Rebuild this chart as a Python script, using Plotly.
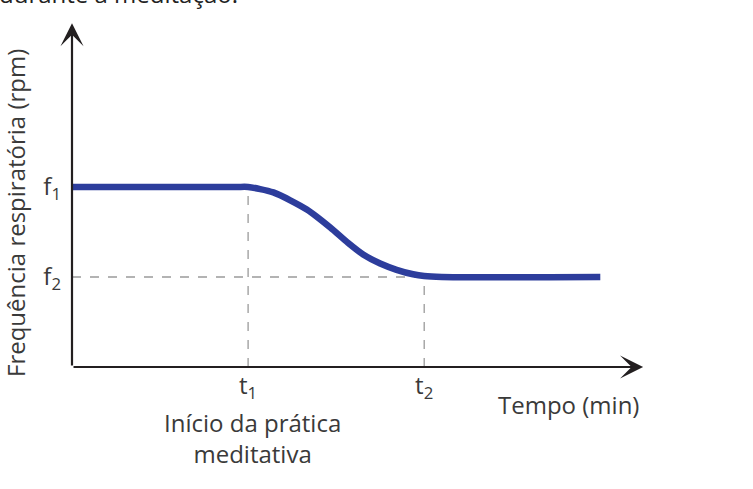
import plotly.graph_objects as go

# curva de frequência respiratória (unidades arbitrárias)
tempo = [0.0, 2.8, 3.0, 3.43, 4.0, 4.4, 4.7, 4.96, 5.25, 5.53, 5.81, 6.0, 6.3, 9.0]
freq = [2.0, 2.0, 2.0, 1.94, 1.75, 1.55, 1.38, 1.25, 1.15, 1.08, 1.03, 1.01, 1.0, 1.0]

T1, T2 = 3.0, 6.0
F1, F2 = 2.0, 1.0
x_ticks = ["t<sub>1</sub>", "t<sub>2</sub>"]
y_ticks = ["f<sub>1</sub>", "f<sub>2</sub>"]

X_MAX, Y_MAX = 9.73, 3.82  # pontas das setas

FONT = dict(family="Open Sans", size=24, color="#3a3a3a")
AXIS_COLOR = "#231f20"
GUIDE = dict(color="#9b9b9b", width=1.3, dash="dash")

# pixels da área do gráfico (para converter para paper)
L, R, T, B = 72, 94, 7, 122
W, H = 753 - L - R, 489 - T - B


def px_x(px):
    return (px - L) / W


def px_y(py):
    return (489 - B - py) / H


fig = go.Figure()
fig.add_trace(go.Scatter(
    x=tempo, y=freq, mode="lines",
    line=dict(color="#2d3d9c", width=6.5, shape="spline", smoothing=0.7),
    hoverinfo="skip",
))

# linhas de guia tracejadas
fig.add_shape(type="line", x0=T1, x1=T1, y0=0, y1=F1, line=GUIDE, layer="below")
fig.add_shape(type="line", x0=T2, x1=T2, y0=0, y1=F2, line=GUIDE, layer="below")
fig.add_shape(type="line", x0=0, x1=T2, y0=F2, y1=F2, line=GUIDE, layer="below")

# eixos com setas
for tip in [(X_MAX, 0), (0, Y_MAX)]:
    fig.add_annotation(
        x=tip[0], y=tip[1], ax=0, ay=0, xref="x", yref="y", axref="x", ayref="y",
        text="", showarrow=True, arrowhead=3, arrowwidth=2.2, arrowsize=1.75,
        arrowcolor=AXIS_COLOR,
    )

fig.add_annotation(
    x=px_x(252), y=px_y(438), xref="paper", yref="paper",
    text="Início da prática<br>meditativa",
    showarrow=False, font=FONT, xanchor="center", yanchor="middle",
)
fig.add_annotation(
    x=px_x(641), y=px_y(404), xref="paper", yref="paper", text="Tempo (min)",
    showarrow=False, font=FONT, xanchor="right", yanchor="middle",
)
fig.add_annotation(
    x=px_x(15), y=px_y(213), xref="paper", yref="paper",
    text="Frequência respiratória (rpm)",
    textangle=-90, showarrow=False, font=FONT, xanchor="center", yanchor="middle",
)
# texto cortado no topo da imagem original
fig.add_annotation(
    x=px_x(240), y=1, xref="paper", yref="paper", text="durante a meditação.",
    showarrow=False, font=dict(family="Open Sans", size=24, color="#222"),
    xanchor="right", yanchor="bottom", yshift=-5,
)

fig.update_layout(
    width=753, height=489,
    margin=dict(l=L, r=R, t=T, b=B),
    paper_bgcolor="white", plot_bgcolor="white",
    showlegend=False, font=FONT,
)
fig.update_xaxes(
    range=[0, 10], showgrid=False, zeroline=False, showline=False,
    tickvals=[T1, T2], ticktext=x_ticks, ticks="", ticklabelstandoff=2,
    tickfont=FONT, fixedrange=True,
)
fig.update_yaxes(
    range=[0, 4], showgrid=False, zeroline=False, showline=False,
    tickvals=[F1, F2], ticktext=y_ticks, ticks="", ticklabelstandoff=10,
    tickfont=FONT, fixedrange=True,
)

fig.write_html("out.html", config={"displayModeBar": False},
               post_script="document.body.style.margin='0';")
